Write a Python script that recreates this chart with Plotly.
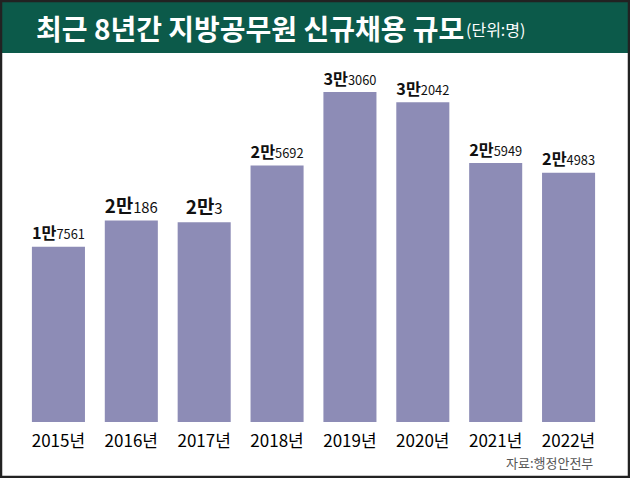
import plotly.graph_objects as go

years = ["2015년", "2016년", "2017년", "2018년", "2019년", "2020년", "2021년", "2022년"]
hires = [17561, 20186, 20003, 25692, 33060, 32042, 25949, 24983]

title_text = "최근 8년간 지방공무원 신규채용 규모"
unit_text = "(단위:명)"
source_text = "자료:행정안전부"

FONT = "Noto Sans CJK KR, Noto Sans, sans-serif"
GREEN = "#0c5a4a"
BAR = "#8d8cb6"

labels = [
    f"<b>{v // 10000}만</b><span style='font-size:15px'>{v % 10000}</span>" for v in hires
]

fig = go.Figure(
    go.Bar(
        x=years,
        y=hires,
        marker=dict(color=BAR, line=dict(width=0)),
        text=labels,
        textposition="outside",
        textfont=dict(family=FONT, size=19, color="#111111"),
        cliponaxis=False,
        hoverinfo="skip",
    )
)

fig.update_layout(
    width=630,
    height=478,
    margin=dict(l=22, r=25, t=60, b=56),
    paper_bgcolor="white",
    plot_bgcolor="white",
    bargap=0.272,
    showlegend=False,
    font=dict(family=FONT),
    xaxis=dict(
        showgrid=False,
        showline=False,
        zeroline=False,
        ticks="",
        ticklabelstandoff=7,
        tickfont=dict(family=FONT, size=17, color="#000000"),
    ),
    yaxis=dict(
        range=[0, 36270],
        visible=False,
        showgrid=False,
        zeroline=False,
    ),
    shapes=[
        dict(type="rect", xref="paper", yref="paper",
             x0=-22 / 583, x1=(630 - 22) / 583,
             y0=(422 - 53) / 362, y1=422 / 362,
             fillcolor=GREEN, line=dict(width=0), layer="below"),
        dict(type="rect", xref="paper", yref="paper",
             x0=-21 / 583, x1=(629 - 22) / 583,
             y0=-(56 - 1) / 362, y1=(422 - 1) / 362,
             fillcolor="rgba(0,0,0,0)", line=dict(width=2.5, color="#222222"), layer="above"),
    ],
    annotations=[
        dict(text="<b>" + title_text + "</b>", xref="paper", yref="paper",
             x=(34 - 22) / 583, y=(422 - 28) / 362, xanchor="left", yanchor="middle",
             showarrow=False, font=dict(family=FONT, size=28, color="white")),
        dict(text=unit_text, xref="paper", yref="paper",
             x=(464 - 22) / 583, y=(422 - 29) / 362, xanchor="left", yanchor="middle",
             showarrow=False, font=dict(family=FONT, size=16, color="white")),
        dict(text=source_text, xref="paper", yref="paper",
             x=(595 - 22) / 583, y=-(462 - 422) / 362, xanchor="right", yanchor="middle",
             showarrow=False, font=dict(family=FONT, size=13, color="#555555")),
    ],
)

fig.write_html("out.html")
